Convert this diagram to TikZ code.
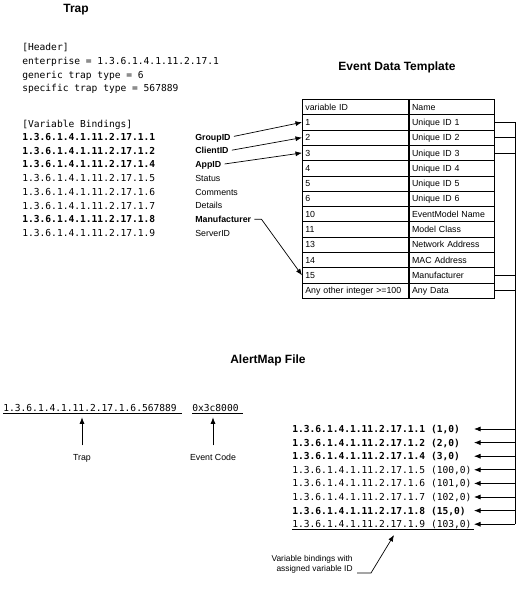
\documentclass[tikz,border=0pt]{standalone}
\usepackage{fontspec}
\setmainfont{Liberation Sans}
\setmonofont{DejaVu Sans Mono}
\usetikzlibrary{positioning,arrows.meta}

\begin{document}
\begin{tikzpicture}[x=1pt, y=-1pt, line width=0.7pt]
	% Estilos
	\tikzset{
		titletext/.style={font=\bfseries\fontsize{12}{14}\selectfont},
		codetext/.style={font=\ttfamily\fontsize{9.6}{12}\selectfont, anchor=west, inner sep=0pt, text height=7pt, text depth=0pt},
		codebold/.style={codetext, font=\ttfamily\bfseries\fontsize{9.6}{12}\selectfont},
		lbltext/.style={font=\fontsize{8.8}{11}\selectfont, anchor=west, inner sep=0pt, text height=6.5pt, text depth=0pt},
		lblbold/.style={lbltext, font=\bfseries\fontsize{8.8}{11}\selectfont},
		cellid/.style={draw, anchor=north west, minimum height=15.3pt, text width=100pt, inner xsep=3pt, inner ysep=0pt, align=left, text height=6.3pt, text depth=0pt, font=\fontsize{8.8}{10}\selectfont},
		cellname/.style={cellid, text width=79pt},
		arr/.style={-{Latex[length=6.5pt,width=5pt]}},
	}
	\useasboundingbox (0,0) rectangle (530,589);
	
	% --- Titulos ---
	\node[titletext] (traptitle) at (76,10) {Trap};
	\node[titletext] (edttitle) at (397,67) {Event Data Template};
	\node[titletext] (amtitle) at (268,360) {AlertMap File};
	
	% --- Trap ---
	\node[codetext] (hdr) at (22,47) {[Header]};
	\node[codetext] (ent) at (22,61) {enterprise = 1.3.6.1.4.1.11.2.17.1};
	\node[codetext] (gen) at (22,74.5) {generic trap type = 6};
	\node[codetext] (spec) at (22,88) {specific trap type = 567889};
	\node[codetext] (vbhdr) at (22,124) {[Variable Bindings]};
	\foreach \last/\sty [count=\i] in {1/codebold, 2/codebold, 4/codebold, 5/codetext, 6/codetext, 7/codetext, 8/codebold, 9/codetext}
		\node[\sty] (vb\i) at (22, 137+13.7*\i-13.7) {1.3.6.1.4.1.11.2.17.1.\last};
	
	% --- Etiquetas de las variables ---
	\foreach \lbl/\sty [count=\i] in {GroupID/lblbold, ClientID/lblbold, AppID/lblbold, Status/lbltext, Comments/lbltext, Details/lbltext, Manufacturer/lblbold, ServerID/lbltext}
		\node[\sty] (lbl\i) at (195, 137+13.7*\i-13.7) {\lbl};
	
	% --- Event Data Template ---
	\foreach \vid/\vname [count=\i from 0] in {variable ID/Name, 1/Unique ID 1, 2/Unique ID 2, 3/Unique ID 3, 4/Unique ID 4, 5/Unique ID 5, 6/Unique ID 6, 10/EventModel Name, 11/Model Class, 13/Network Address, 14/MAC Address, 15/Manufacturer, Any other integer >=100/Any Data}
	{
		\node[cellid] (vid\i) at (302, 99+15.3*\i) {\vid};
		\node[cellname] (vname\i) at (vid\i.north east) {\vname};
	}
	
	% --- Flechas de etiquetas a la tabla ---
	\draw[arr, shorten <=3pt] (lbl1.east) -- (vid1.west);
	\draw[arr, shorten <=3pt] (lbl2.east) -- (vid2.west);
	\draw[arr, shorten <=3pt] (lbl3.east) -- (vid3.west);
	\draw[arr, shorten <=3pt] (lbl7.east) -- ++(10,0) -- (vid11.west);
	
	% --- AlertMap File ---
	\node[codetext] (trapoid) at (3,408) {1.3.6.1.4.1.11.2.17.1.6.567889};
	\node[codetext] (evcode) at (192,408) {0x3c8000};
	\draw ([yshift=-1.5pt]trapoid.south west) -- ([yshift=-1.5pt,xshift=5pt]trapoid.south east);
	\draw ([yshift=-1.5pt]evcode.south west) -- ([yshift=-1.5pt,xshift=4pt]evcode.south east);
	\node[lbltext, anchor=center] (traplbl) at (82,457) {Trap};
	\node[lbltext, anchor=center] (evlbl) at (213,457) {Event Code};
	\draw[arr, shorten <=8pt, shorten >=5.5pt] (traplbl.north) -- (traplbl.north |- trapoid.south);
	\draw[arr, shorten <=8pt, shorten >=5.5pt] (evlbl.north) -- (evlbl.north |- evcode.south);
	
	\foreach \last/\vid/\sty [count=\i] in {1/1/codebold, 2/2/codebold, 4/3/codebold, 5/100/codetext, 6/101/codetext, 7/102/codetext, 8/15/codebold, 9/103/codetext}
		\node[\sty] (amb\i) at (292, 429+13.6*\i-13.6) {1.3.6.1.4.1.11.2.17.1.\last{} (\vid,0)};
	\draw ([yshift=-1.5pt]amb8.south west) -- ([yshift=-1.5pt,xshift=2pt]amb8.south east);
	
	% --- Bus de la derecha ---
	\coordinate (busx) at (515,0);
	\coordinate (tipx) at (474,0);
	\foreach \r in {1,2,3,11,12}
		\draw (vname\r.east) -- (vname\r.east -| busx);
	\draw (vname1.east -| busx) -- (busx |- amb8.east);
	\foreach \i in {1,...,8}
		\draw[arr] (amb\i.east -| busx) -- (amb\i.east -| tipx);
	
	% --- Nota inferior ---
	\node[lbltext, anchor=east, align=right, font=\fontsize{8.4}{10}\selectfont] (vbnote) at (353,568) {Variable bindings with\\assigned variable ID};
	\coordinate (vbtip) at (394,535);
	\draw[arr, shorten <=4pt] ([yshift=-5pt]vbnote.east) -- ++(18,0) -- (vbtip);
	
\end{tikzpicture}
\end{document}
